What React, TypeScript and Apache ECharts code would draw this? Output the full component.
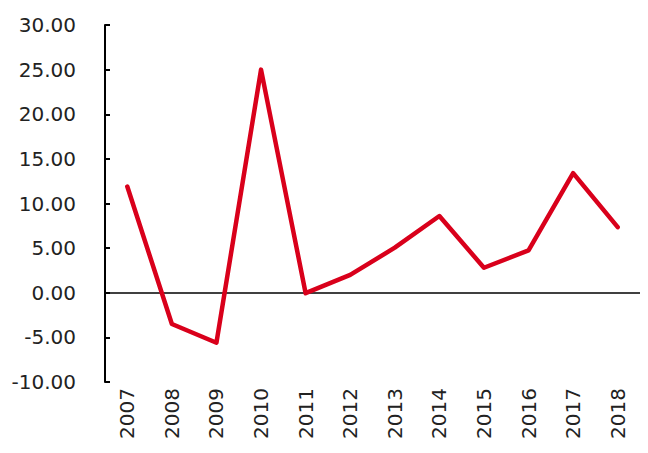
import React, { useEffect, useRef } from "react";
import * as echarts from "echarts";

const years = ["2007", "2008", "2009", "2010", "2011", "2012", "2013", "2014", "2015", "2016", "2017", "2018"];
const values = [11.9, -3.5, -5.6, 25.0, -0.05, 2.0, 5.05, 8.6, 2.8, 4.75, 13.4, 7.35];
const yMin = -10;
const yMax = 30;
const yStep = 5;

export default function App() {
  const ref = useRef<HTMLDivElement>(null);
  useEffect(() => {
    if (!ref.current) return;
    const chart = echarts.init(ref.current, null, { renderer: "svg" });
    const font = "DejaVu Sans";
    chart.setOption({
      animation: false,
      backgroundColor: "#ffffff",
      grid: { left: 105, right: 8, top: 25, bottom: 71, containLabel: false },
      xAxis: {
        type: "category",
        data: years,
        boundaryGap: true,
        axisLine: { show: false, onZero: false },
        axisTick: { show: false },
        axisLabel: {
          rotate: 90,
          margin: 6,
          color: "#222",
          fontFamily: font,
          fontSize: 20,
        },
        splitLine: { show: false },
      },
      yAxis: {
        type: "value",
        min: yMin,
        max: yMax,
        interval: yStep,
        axisLine: { show: true, onZero: false, lineStyle: { color: "#000", width: 2 } },
        axisTick: { show: true, inside: true, length: 5, lineStyle: { color: "#000", width: 2 } },
        axisLabel: {
          margin: 29,
          color: "#222",
          fontFamily: font,
          fontSize: 20,
          formatter: (v: number) => v.toFixed(2),
        },
        splitLine: { show: false },
      },
      series: [
        {
          type: "line",
          data: values,
          symbol: "none",
          lineStyle: { color: "#D9001B", width: 4.5, cap: "round", join: "round" },
          markLine: {
            silent: true,
            symbol: "none",
            label: { show: false },
            lineStyle: { color: "#000", width: 1.5, type: "solid" },
            data: [{ yAxis: 0 }],
            z: 1,
          },
          z: 3,
        },
      ],
    });
    return () => chart.dispose();
  }, []);
  return (
    <div
      ref={ref}
      style={{ position: "fixed", left: 0, top: 0, width: 648, height: 453 }}
    />
  );
}
